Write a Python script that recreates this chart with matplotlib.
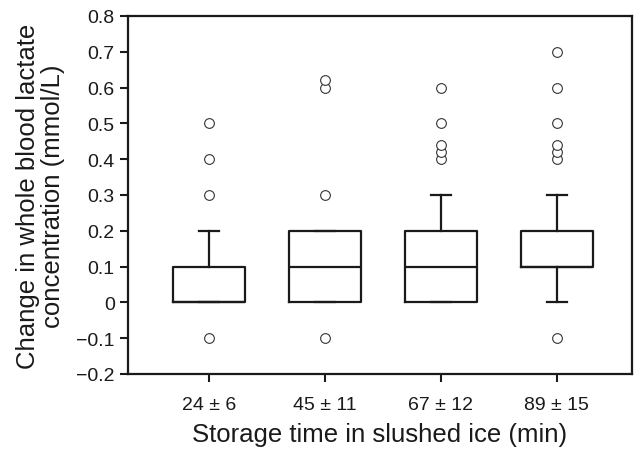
import matplotlib
matplotlib.use('Agg')
import matplotlib.pyplot as plt

plt.rcParams['font.family'] = ['Liberation Sans', 'DejaVu Sans']

groups = ['24 ± 6', '45 ± 11', '67 ± 12', '89 ± 15']
q1 = [0.0, 0.0, 0.0, 0.1]
med = [0.0, 0.1, 0.1, 0.1]
q3 = [0.1, 0.2, 0.2, 0.2]
whislo = [0.0, 0.0, 0.0, 0.0]
whishi = [0.2, 0.2, 0.3, 0.3]
fliers = [
    [-0.1, 0.3, 0.4, 0.5],
    [-0.1, 0.3, 0.6, 0.62],
    [0.4, 0.42, 0.44, 0.5, 0.6],
    [-0.1, 0.4, 0.42, 0.44, 0.5, 0.6, 0.7],
]
yticks = [-0.2, -0.1, 0, 0.1, 0.2, 0.3, 0.4, 0.5, 0.6, 0.7, 0.8]
ylabels = ['−0.2', '−0.1', '0', '0.1', '0.2', '0.3', '0.4', '0.5', '0.6', '0.7', '0.8']

stats = [dict(label=g, q1=a, med=m, q3=b, whislo=lo, whishi=hi, fliers=f)
         for g, a, m, b, lo, hi, f in zip(groups, q1, med, q3, whislo, whishi, fliers)]

fig = plt.figure(figsize=(6.35, 4.52), dpi=100)
ax = fig.add_axes([0.2016, 0.1704, 0.7937, 0.792])

lw = 1.6
ax.bxp(stats, positions=[1, 2, 3, 4], widths=0.62, showfliers=True,
       boxprops=dict(color='#1a1a1a', linewidth=lw),
       medianprops=dict(color='#1a1a1a', linewidth=lw),
       whiskerprops=dict(color='#1a1a1a', linewidth=lw),
       capprops=dict(color='#1a1a1a', linewidth=lw),
       capwidths=0.17,
       flierprops=dict(marker='o', markersize=7, markerfacecolor='white',
                       markeredgecolor='#333333', markeredgewidth=0.8))

ax.set_xlim(0.3, 4.65)
ax.set_ylim(-0.2, 0.8)
ax.set_yticks(yticks)
ax.set_yticklabels(ylabels)
ax.set_xticks([1, 2, 3, 4])
ax.set_xticklabels(groups)
ax.tick_params(direction='out', length=6, width=1.5, labelsize=14, colors='#1a1a1a')
ax.tick_params(axis='x', pad=10)
for s in ax.spines.values():
    s.set_linewidth(1.6)
    s.set_color('#1a1a1a')

ax.set_xlabel('Storage time in slushed ice (min)', fontsize=18.5, color='#1a1a1a', labelpad=6)
ax.set_ylabel('Change in whole blood lactate\nconcentration (mmol/L)', fontsize=18.5,
              color='#1a1a1a', labelpad=8, linespacing=1.05)

fig.savefig('out.png', dpi=100)
